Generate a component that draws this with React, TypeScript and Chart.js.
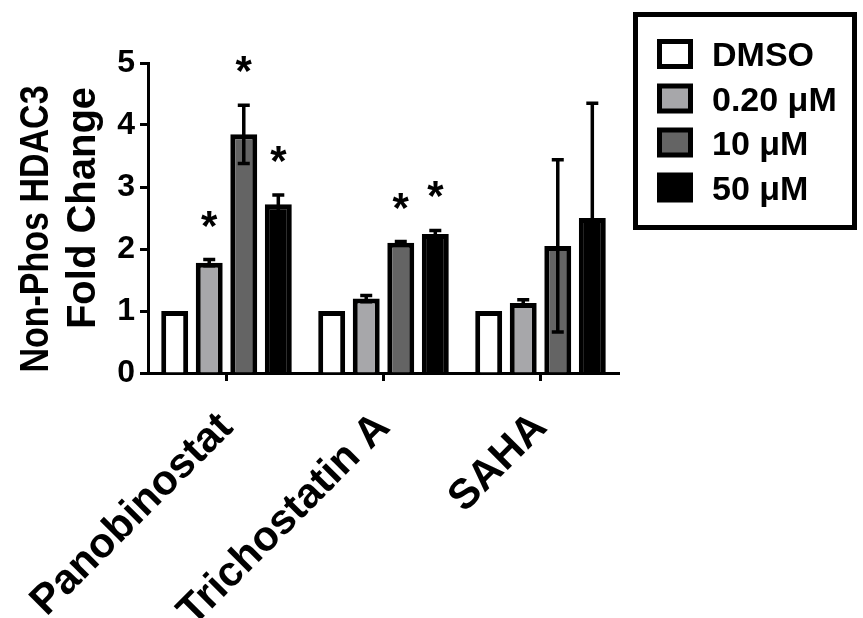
import React, { useEffect, useRef } from 'react';
import { Chart, registerables } from 'chart.js';

Chart.register(...registerables);

const categories = ['Panobinostat', 'Trichostatin A', 'SAHA'];
const seriesLabels = ['DMSO', '0.20 \u03BCM', '10 \u03BCM', '50 \u03BCM'];
const dmsoValues = [1.0, 1.0, 1.0];
const dmsoErrors = [0, 0, 0];
const lowValues = [1.78, 1.2, 1.13];
const lowErrors = [0.05, 0.05, 0.05];
const midValues = [3.85, 2.1, 2.05];
const midErrors = [0.47, 0.02, 1.39];
const highValues = [2.72, 2.24, 2.5];
const highErrors = [0.15, 0.06, 1.85];
const dmsoSig = [false, false, false];
const lowSig = [true, false, false];
const midSig = [true, true, false];
const highSig = [true, true, false];
const yTicks = [0, 1, 2, 3, 4, 5];
const yTitleLines = ['Non-Phos HDAC3', 'Fold Change'];

const FONT = '"Liberation Sans", Arial, Helvetica, sans-serif';
const fills = ['#ffffff', '#a7a7aa', '#646464', '#000000'];

export default function App() {
  const ref = useRef<HTMLCanvasElement | null>(null);

  useEffect(() => {
    const canvas = ref.current;
    if (!canvas) return;
    const values = [dmsoValues, lowValues, midValues, highValues];
    const errors = [dmsoErrors, lowErrors, midErrors, highErrors];
    const sigs = [dmsoSig, lowSig, midSig, highSig];

    const errorBarPlugin = {
      id: 'errorBars',
      afterDatasetsDraw(chart: any) {
        const ctx = chart.ctx;
        const y = chart.scales.y;
        ctx.save();
        ctx.strokeStyle = '#000';
        ctx.lineWidth = 3.5;
        chart.data.datasets.forEach((ds: any, di: number) => {
          const meta = chart.getDatasetMeta(di);
          meta.data.forEach((bar: any, i: number) => {
            const v = values[di][i];
            const e = errors[di][i];
            if (!e) return;
            const x = bar.x;
            const top = y.getPixelForValue(v + e);
            const bot = y.getPixelForValue(v - e);
            ctx.beginPath();
            ctx.moveTo(x, top);
            ctx.lineTo(x, bot);
            ctx.moveTo(x - 6, top);
            ctx.lineTo(x + 6, top);
            ctx.moveTo(x - 6, bot);
            ctx.lineTo(x + 6, bot);
            ctx.stroke();
          });
        });
        // significance asterisks
        ctx.fillStyle = '#000';
        ctx.font = `bold 42px ${FONT}`;
        ctx.textAlign = 'center';
        ctx.textBaseline = 'alphabetic';
        chart.data.datasets.forEach((ds: any, di: number) => {
          const meta = chart.getDatasetMeta(di);
          meta.data.forEach((bar: any, i: number) => {
            if (!sigs[di][i]) return;
            const top = y.getPixelForValue(values[di][i] + errors[di][i]);
            const cy = top - 44;
            ctx.fillText('*', bar.x, cy + 24);
          });
        });
        ctx.restore();
      },
    };

    const legendPlugin = {
      id: 'boxLegend',
      afterDraw(chart: any) {
        const ctx = chart.ctx;
        ctx.save();
        ctx.strokeStyle = '#000';
        ctx.lineWidth = 5;
        ctx.strokeRect(635.5, 14.5, 219, 213);
        const rows = [54, 98.5, 142.5, 187.5];
        ctx.font = `bold 34px ${FONT}`;
        ctx.textAlign = 'left';
        ctx.textBaseline = 'alphabetic';
        chart.data.datasets.forEach((ds: any, i: number) => {
          const cy = rows[i];
          ctx.fillStyle = '#000';
          ctx.fillRect(657, cy - 15, 36, 30);
          ctx.fillStyle = ds.backgroundColor;
          ctx.fillRect(662, cy - 10, 26, 20);
          ctx.fillStyle = '#000';
          ctx.fillText(ds.label, 712, cy + 12);
        });
        ctx.restore();
      },
    };

    const yTitlePlugin = {
      id: 'yTitle',
      afterDraw(chart: any) {
        const ctx = chart.ctx;
        const specs = [
          { cx: 33, cy: 229, f: 34, sy: 1.22 },
          { cx: 81, cy: 208, f: 40, sy: 1.0 },
        ];
        ctx.save();
        ctx.fillStyle = '#000';
        ctx.textAlign = 'center';
        ctx.textBaseline = 'alphabetic';
        yTitleLines.forEach((line, i) => {
          const s = specs[i];
          ctx.save();
          ctx.font = `bold ${s.f}px ${FONT}`;
          ctx.translate(s.cx, s.cy);
          ctx.rotate(-Math.PI / 2);
          ctx.scale(1, s.sy);
          ctx.fillText(line, 0, 0.358 * s.f);
          ctx.restore();
        });
        ctx.restore();
      },
    };

    const chart = new Chart(canvas, {
      type: 'bar',
      data: {
        labels: categories,
        datasets: seriesLabels.map((label, i) => ({
          label,
          data: values[i],
          backgroundColor: fills[i],
          borderColor: '#000',
          borderWidth: 5,
          barPercentage: 0.78,
          categoryPercentage: 0.88,
        })),
      },
      options: {
        responsive: false,
        animation: false,
        events: [],
        layout: { padding: { top: 63, right: 244, bottom: 0, left: 0 } },
        plugins: {
          legend: { display: false },
          tooltip: { enabled: false },
          title: { display: false },
        },
        scales: {
          x: {
            offset: true,
            grid: {
              offset: false,
              drawOnChartArea: false,
              drawTicks: true,
              tickLength: 8,
              tickWidth: 3,
              tickColor: '#000',
            },
            border: { display: true, color: '#000', width: 3 },
            ticks: {
              color: '#000',
              font: { family: FONT, size: 42, weight: 'bold' },
              minRotation: 45,
              maxRotation: 45,
              autoSkip: false,
              padding: 22,
            },
            afterFit: (s: any) => {
              s.height = 245;
              s.paddingLeft = 0;
              s.paddingRight = 0;
            },
          },
          y: {
            min: 0,
            max: 5,
            afterBuildTicks: (s: any) => {
              s.ticks = yTicks.map((v) => ({ value: v }));
            },
            grid: {
              drawOnChartArea: false,
              drawTicks: true,
              tickLength: 8,
              tickWidth: 3,
              tickColor: '#000',
            },
            border: { display: true, color: '#000', width: 3 },
            ticks: {
              color: '#000',
              font: { family: FONT, size: 32, weight: 'bold' },
              padding: 5,
            },
            afterFit: (s: any) => {
              s.width = 148;
              s.paddingTop = 0;
              s.paddingBottom = 0;
            },
          },
        },
      },
      plugins: [errorBarPlugin, legendPlugin, yTitlePlugin],
    } as any);

    return () => chart.destroy();
  }, []);

  return (
    <div style={{ position: 'fixed', left: 0, top: 0, width: 863, height: 618, background: '#fff' }}>
      <canvas ref={ref} width={863} height={618} style={{ width: 863, height: 618, display: 'block' }} />
    </div>
  );
}
